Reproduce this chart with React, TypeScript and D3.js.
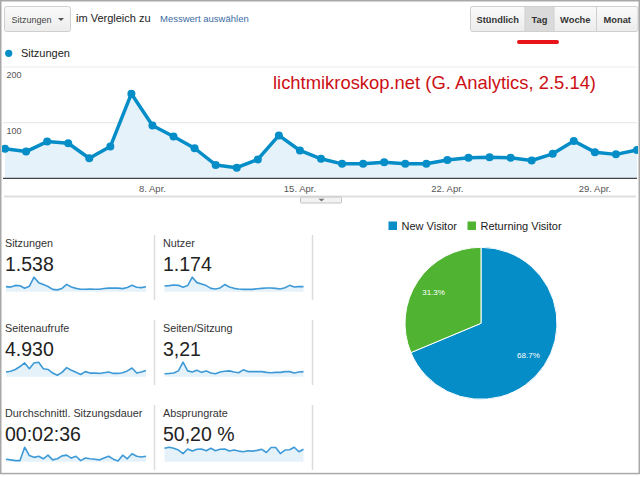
import React from 'react';
import * as d3 from 'd3';

// ---------- DATA ----------
const startDay = new Date(2014, 3, 1);
const endDay = new Date(2014, 4, 1);
const days = d3.timeDay.range(startDay, d3.timeDay.offset(endDay, 1));

const sessions = [53, 48, 66, 63, 36, 57, 152, 95, 75, 54, 24, 19, 34, 77, 50, 35, 26, 26, 29, 26, 26, 33, 37, 38, 37, 32, 44, 67, 47, 43, 51];
const users = [44, 47, 52, 49, 34, 47, 112, 70, 60, 47, 26, 21, 29, 55, 36, 26, 21, 18, 18, 18, 23, 26, 29, 29, 26, 21, 31, 49, 36, 39, 39];
const pageviews = [137, 158, 210, 294, 399, 231, 399, 420, 231, 210, 105, 42, 126, 263, 189, 126, 63, 147, 105, 105, 95, 116, 137, 95, 95, 116, 168, 252, 105, 137, 179];
const pagesPerSession = [2.14, 2.41, 2.68, 4.28, 10.7, 4.28, 3.48, 4.82, 3.21, 4.28, 2.68, 2.14, 3.48, 4.01, 4.28, 3.48, 2.94, 5.08, 3.75, 3.75, 3.75, 3.75, 3.21, 2.94, 3.21, 3.21, 3.75, 3.75, 2.68, 3.48, 3.75];
const avgDuration = [99, 71, 43, 43, 568, 241, 170, 213, 114, 256, 71, 114, 227, 256, 142, 213, 43, 142, 114, 99, 71, 142, 213, 99, 28, 256, 114, 312, 213, 185, 213];
const bounceRate = [57, 61.5, 57, 49.5, 34.5, 54, 45, 52.5, 54, 46.5, 57, 46.5, 52.5, 54, 45, 49.5, 45, 42, 46.5, 45, 48, 52.5, 39, 60, 60, 34.5, 49.5, 51, 61.5, 42, 52.5];

const yTicks = [100, 200];
const xTickDates = [new Date(2014, 3, 8), new Date(2014, 3, 15), new Date(2014, 3, 22), new Date(2014, 3, 29)];
const xTickLabels = ['8. Apr.', '15. Apr.', '22. Apr.', '29. Apr.'];

const metricLabels = ['Sitzungen', 'Nutzer', 'Seitenaufrufe', 'Seiten/Sitzung', 'Durchschnittl. Sitzungsdauer', 'Absprungrate'];
const metricValues = ['1.538', '1.174', '4.930', '3,21', '00:02:36', '50,20 %'];
const metricSeries = [sessions, users, pageviews, pagesPerSession, avgDuration, bounceRate];

const visitorTypes = ['New Visitor', 'Returning Visitor'];
const visitorShares = [68.7, 31.3];

const periodButtons = ['Stündlich', 'Tag', 'Woche', 'Monat'];

// ---------- STYLE ----------
const FONT = '"Liberation Sans", Arial, Helvetica, sans-serif';
const BLUE = '#058dc7';
const GREEN = '#50b432';
const FILL = '#e6f2fa';

function Spark({ values, x0, x1, bottom }: { values: number[]; x0: number; x1: number; bottom: number }) {
  const x = d3.scaleLinear().domain([0, values.length - 1]).range([x0, x1]);
  const y = d3.scaleLinear().domain([0, d3.max(values) as number]).range([bottom, bottom - 14.5]);
  const area = d3.area<number>().x((_, i) => x(i)).y0(bottom).y1((d) => y(d));
  const line = d3.line<number>().x((_, i) => x(i)).y((d) => y(d));
  return (
    <g>
      <path d={area(values) || ''} fill={FILL} />
      <path d={line(values) || ''} fill="none" stroke="#3d9ad6" strokeWidth={1.6} strokeLinejoin="round" />
    </g>
  );
}

export default function App() {
  // main chart scales
  const x = d3.scaleTime().domain([startDay, endDay]).range([5, 637]);
  const y = d3.scaleLinear().domain([0, 200]).range([178.3, 67]);
  const area = d3
    .area<number>()
    .x((_, i) => x(days[i]))
    .y0(y(0))
    .y1((d) => y(d));
  const line = d3
    .line<number>()
    .x((_, i) => x(days[i]))
    .y((d) => y(d));

  // pie
  const pie = d3.pie<number>().sort(null).value((d) => d);
  const arcs = pie(visitorShares);
  const arcGen = d3.arc<d3.PieArcDatum<number>>().innerRadius(0).outerRadius(76);
  const labelArc = d3.arc<d3.PieArcDatum<number>>().innerRadius(57).outerRadius(57);
  const pieColors = [BLUE, GREEN];

  // buttons
  const btnEdges = [470.5, 525, 554, 596.5, 638];

  return (
    <svg
      width={640}
      height={477}
      style={{ position: 'absolute', left: 0, top: 0, display: 'block', background: '#fff' }}
      fontFamily={FONT}
    >
      <defs>
        <linearGradient id="btnGrad" x1="0" y1="0" x2="0" y2="1">
          <stop offset="0" stopColor="#fafafa" />
          <stop offset="1" stopColor="#ececec" />
        </linearGradient>
        <clipPath id="plotClip">
          <rect x={2} y={55} width={636} height={130} />
        </clipPath>
      </defs>
      <rect x={0} y={0} width={640} height={477} fill="#fff" />

      {/* top controls */}
      <rect x={4.5} y={6.5} width={66} height={25} rx={2} fill="url(#btnGrad)" stroke="#cfcfcf" />
      <text x={11.5} y={22.5} fontSize={9} fill="#444">Sitzungen</text>
      <path d="M58,18 L64,18 L61,21 Z" fill="#555" />
      <text x={76} y={21.5} fontSize={11} fill="#222">im Vergleich zu</text>
      <text x={160} y={22} fontSize={9.5} fill="#3d6ca4">Messwert auswählen</text>

      {/* period buttons */}
      <rect x={470.5} y={6.5} width={167.5} height={25} rx={2} fill="url(#btnGrad)" stroke="#cfcfcf" />
      <rect x={525} y={7} width={29} height={24} fill="#dadada" />
      {btnEdges.slice(1, 4).map((e, i) => (
        <line key={i} x1={e} x2={e} y1={6.5} y2={31.5} stroke="#cfcfcf" />
      ))}
      {periodButtons.map((b, i) => (
        <text
          key={b}
          x={(btnEdges[i] + btnEdges[i + 1]) / 2}
          y={22.5}
          fontSize={9.3}
          fontWeight="bold"
          fill="#333"
          textAnchor="middle"
        >
          {b}
        </text>
      ))}
      <line x1={519} x2={557} y1={42} y2={42} stroke="#e8131b" strokeWidth={4} strokeLinecap="round" />

      {/* legend */}
      <circle cx={8.7} cy={53.3} r={3.6} fill={BLUE} />
      <text x={21} y={57.3} fontSize={11} fill="#222">Sitzungen</text>

      {/* grid */}
      {yTicks.map((t) => (
        <g key={t}>
          <line x1={3} x2={637} y1={y(t)} y2={y(t)} stroke="#eaeaea" strokeWidth={1.2} />
          <text x={6.5} y={y(t) + 11} fontSize={9} fill="#555">{t}</text>
        </g>
      ))}

      <g clipPath="url(#plotClip)">
        <path d={area(sessions) || ''} fill={FILL} />
        <path d={line(sessions) || ''} fill="none" stroke={BLUE} strokeWidth={3.5} strokeLinejoin="round" />
        {sessions.map((d, i) => (
          <circle key={i} cx={x(days[i])} cy={y(d)} r={4} fill={BLUE} />
        ))}
      </g>
      <line x1={3} x2={637} y1={y(0)} y2={y(0)} stroke="#444" strokeWidth={1.2} />

      {xTickDates.map((d, i) => (
        <text key={i} x={x(d)} y={192} fontSize={9.5} fill="#555" textAnchor="middle">
          {xTickLabels[i]}
        </text>
      ))}

      {/* slider */}
      <line x1={4} x2={636} y1={196.5} y2={196.5} stroke="#dedede" strokeWidth={2} />
      <rect x={300.5} y={197} width={41} height={6} rx={1} fill="#f2f2f2" stroke="#c4c4c4" />
      <path d="M318.5,198.8 L324.5,198.8 L321.5,201.5 Z" fill="#777" />

      {/* title */}
      <text x={273} y={89} fontSize={18.4} fill="#cc1016">lichtmikroskop.net (G. Analytics, 2.5.14)</text>

      {/* metrics */}
      {metricLabels.map((lab, i) => {
        const row = Math.floor(i / 2);
        const col = i % 2;
        const lx = col === 0 ? 5 : 163;
        const sx0 = col === 0 ? 6 : 164.5;
        const sx1 = col === 0 ? 146 : 303.5;
        const oy = row * 85;
        return (
          <g key={lab}>
            <text x={lx} y={246.5 + oy} fontSize={10.8} fill="#333">{lab}</text>
            <text x={lx} y={271 + oy} fontSize={19.5} fill="#222">{metricValues[i]}</text>
            <Spark values={metricSeries[i]} x0={sx0} x1={sx1} bottom={291.7 + oy} />
          </g>
        );
      })}
      {[0, 1, 2].map((r) => (
        <g key={r}>
          <line x1={154.5} x2={154.5} y1={235 + r * 85} y2={300 + r * 85} stroke="#dcdcdc" strokeWidth={1.5} />
          <line x1={312.5} x2={312.5} y1={235 + r * 85} y2={300 + r * 85} stroke="#dcdcdc" strokeWidth={1.5} />
        </g>
      ))}

      {/* pie legend */}
      {visitorTypes.map((v, i) => {
        const lx = i === 0 ? 388.5 : 467.5;
        return (
          <g key={v}>
            <rect x={lx} y={221.5} width={8.5} height={8.5} fill={pieColors[i]} />
            <text x={lx + 13} y={230} fontSize={11} fill="#222">{v}</text>
          </g>
        );
      })}

      {/* pie */}
      <g transform="translate(481,323.3)">
        {arcs.map((a, i) => (
          <path key={i} d={arcGen(a) || ''} fill={pieColors[i]} stroke="#fff" strokeWidth={1} />
        ))}
        {arcs.map((a, i) => {
          const [cx, cy] = labelArc.centroid(a);
          return (
            <text key={i} x={cx} y={cy + 3} fontSize={8} fill="#fff" textAnchor="middle">
              {visitorShares[i].toFixed(1)}%
            </text>
          );
        })}
      </g>

      {/* outer frame */}
      <rect x={0.75} y={0.75} width={638.5} height={472.8} fill="none" stroke="#a8a8a8" strokeWidth={1.5} />
    </svg>
  );
}
